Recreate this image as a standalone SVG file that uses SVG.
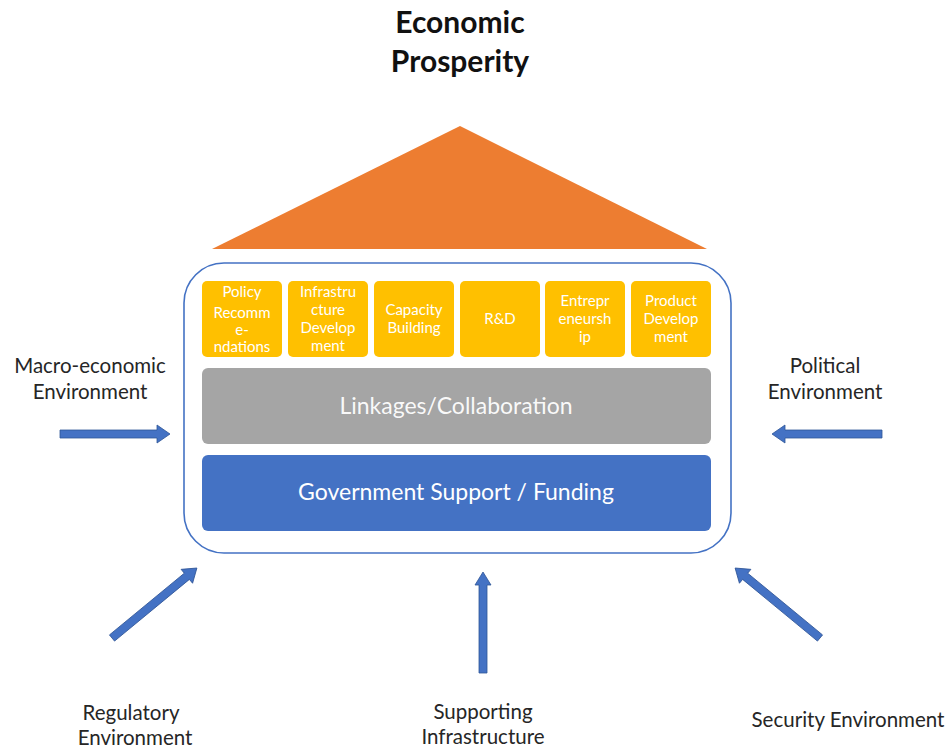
<svg xmlns="http://www.w3.org/2000/svg" width="952" height="749" viewBox="0 0 952 749">
<defs>
<style>
.lbl{font-family:Lato,"Open Sans","Liberation Sans",sans-serif;font-size:20.5px;fill:#262626;text-anchor:middle}
.ttl{font-family:Lato,"Open Sans","Liberation Sans",sans-serif;font-size:30px;font-weight:bold;fill:#111;text-anchor:middle}
.yb{fill:#FFC000}
.yt{font-family:Lato,"Open Sans","Liberation Sans",sans-serif;font-size:15px;fill:#fff;text-anchor:middle}
.bt{font-family:Lato,"Open Sans","Liberation Sans",sans-serif;font-size:23px;fill:#fff;text-anchor:middle}
.arr{fill:#4472C4;stroke:#2F5597;stroke-width:0.8}
</style>
<polygon id="ar" points="0,-4 97,-4 97,-9 110,0 97,9 97,4 0,4"/>
</defs>
<rect width="952" height="749" fill="#fff"/>
<g id="roof"><polygon points="460,126 212,249 707,249" fill="#ED7D31"/></g>
<g id="title"><text class="ttl" x="460" y="33">Economic</text><text class="ttl" x="460" y="72">Prosperity</text></g>
<g id="house"><rect x="184" y="263" width="547" height="290" rx="40" fill="#fff" stroke="#4472C4" stroke-width="1.6"/></g>
<g id="policy"><rect class="yb" x="202" y="281" width="80" height="76" rx="5"/>
<text class="yt" x="242" y="297">Policy</text><text class="yt" x="242" y="318">Recomm</text><text class="yt" x="242" y="335">e-</text><text class="yt" x="242" y="352">ndations</text></g>
<g id="infra"><rect class="yb" x="288" y="281" width="80" height="76" rx="5"/>
<text class="yt" x="328" y="297">Infrastru</text><text class="yt" x="328" y="315">cture</text><text class="yt" x="328" y="333">Develop</text><text class="yt" x="328" y="351">ment</text></g>
<g id="capacity"><rect class="yb" x="374" y="281" width="80" height="76" rx="5"/>
<text class="yt" x="414" y="315">Capacity</text><text class="yt" x="414" y="333">Building</text></g>
<g id="rd"><rect class="yb" x="460" y="281" width="80" height="76" rx="5"/>
<text class="yt" x="500" y="324">R&amp;D</text></g>
<g id="entre"><rect class="yb" x="545" y="281" width="80" height="76" rx="5"/>
<text class="yt" x="585" y="306">Entrepr</text><text class="yt" x="585" y="324">eneursh</text><text class="yt" x="585" y="342">ip</text></g>
<g id="product"><rect class="yb" x="631" y="281" width="80" height="76" rx="5"/>
<text class="yt" x="671" y="306">Product</text><text class="yt" x="671" y="324">Develop</text><text class="yt" x="671" y="342">ment</text></g>
<g id="linkages"><rect x="202" y="368" width="509" height="76" rx="6" fill="#A5A5A5"/>
<text class="bt" x="456" y="414" fill-opacity="0.95">Linkages/Collaboration</text></g>
<g id="gov"><rect x="202" y="455" width="509" height="76" rx="6" fill="#4472C4"/>
<text class="bt" x="456" y="500">Government Support / Funding</text></g>
<g id="macro"><text class="lbl" x="90" y="373">Macro-economic</text><text class="lbl" x="90" y="399">Environment</text></g>
<g id="political"><text class="lbl" x="825" y="373">Political</text><text class="lbl" x="825" y="399">Environment</text></g>
<g id="regulatory"><text class="lbl" x="131" y="720">Regulatory</text><text class="lbl" x="135" y="745">Environment</text></g>
<g id="supporting"><text class="lbl" x="483" y="719">Supporting</text><text class="lbl" x="483" y="744">Infrastructure</text></g>
<g id="security"><text class="lbl" x="848" y="727">Security Environment</text></g>
<g id="connectors">
<use href="#ar" class="arr" transform="translate(60,434)"/>
<use href="#ar" class="arr" transform="translate(882,434) rotate(180)"/>
<use href="#ar" class="arr" transform="translate(112,638) rotate(-39.5)"/>
<use href="#ar" class="arr" transform="translate(820,638) rotate(-140.5)"/>
<polygon class="arr" points="479,673 479,585 475,585 483,572 491,585 487,585 487,673"/>
</g>
</svg>
